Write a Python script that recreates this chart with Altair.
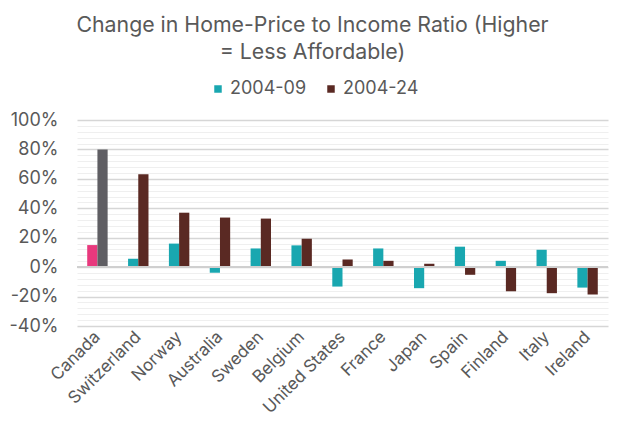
import altair as alt
import pandas as pd

countries = ["Canada", "Switzerland", "Norway", "Australia", "Sweden", "Belgium",
             "United States", "France", "Japan", "Spain", "Finland", "Italy", "Ireland"]
v_0409 = [15, 5.7, 16, -3.8, 12.7, 14.8, -13.2, 12.7, -14.3, 13.9, 4.3, 11.8, -13.9]
v_0424 = [80, 63.2, 37, 33.7, 33, 19.3, 5.2, 4.3, 2.3, -5.2, -16.4, -17.7, -18.6]
series = ["2004-09", "2004-24"]
highlight = "Canada"

grid_ticks = [-40, -36, -32, -28, -24, -20, -16, -12, -8, -4, 0, 4, 8, 12, 16, 20, 24, 28,
              32, 36, 40, 44, 48, 52, 56, 60, 64, 68, 72, 76, 80, 84, 88, 92, 96, 100]

color_domain = ["2004-09", "2004-24", "Canada 2004-09", "Canada 2004-24"]
color_range = ["#19a7b0", "#5a2923", "#e8397d", "#5f5e63"]

rows = []
for c, a, b in zip(countries, v_0409, v_0424):
    for s, v in zip(series, [a, b]):
        key = f"{c} {s}" if c == highlight else s
        rows.append({"country": c, "series": s, "value": v, "key": key})
df = pd.DataFrame(rows)

FONT = "Inter"
TXT = "#595959"

major_test = "datum.value % 20 === 0"
y_scale = alt.Scale(domain=[-40, 100], nice=False)
y_axis = alt.Axis(values=grid_ticks, tickCount=len(grid_ticks) + 4, grid=True,
                  gridColor={"condition": {"test": major_test, "value": "#d6d6d6"},
                             "value": "#efefef"},
                  gridWidth={"condition": {"test": major_test, "value": 1.3},
                             "value": 1},
                  labelExpr=f"{major_test} ? datum.value + '%' : ''",
                  labelFontSize=18, labelColor=TXT,
                  labelFont=FONT, labelPadding=19, ticks=False, domain=False,
                  labelOverlap=False, labelBound=False, labelFlush=False)

bars = alt.Chart(df).mark_bar().encode(
    x=alt.X("country:N", sort=countries, title=None,
            scale=alt.Scale(paddingInner=0.5, paddingOuter=0.25),
            axis=alt.Axis(labelAngle=315, labelAlign="right", labelBaseline="middle",
                          labelFontSize=17, labelColor=TXT, labelFont=FONT,
                          ticks=False, domain=False, labelPadding=8, labelOverlap=False)),
    xOffset=alt.XOffset("series:N", sort=series),
    y=alt.Y("value:Q", scale=y_scale, title=None, axis=y_axis),
    color=alt.Color("key:N", scale=alt.Scale(domain=color_domain, range=color_range),
                    legend=alt.Legend(values=series, title=None, orient="none",
                                      legendX=132, legendY=-40,
                                      direction="horizontal", symbolType="square",
                                      symbolSize=56, labelFontSize=18, labelColor=TXT,
                                      labelFont=FONT, columnPadding=15, symbolStrokeWidth=0,
                                      labelOffset=3)),
)

zero = alt.Chart(df).mark_rule(color="#cfcfcf", strokeWidth=1.2).encode(y=alt.datum(0))

chart = alt.layer(bars, zero).properties(
    width=531, height=206,
    autosize=alt.AutoSizeParams(type="none"),
    padding={"left": 69, "top": 112, "right": 8, "bottom": 105},
    title=alt.TitleParams(["Change in Home-Price to Income Ratio (Higher", "= Less Affordable)"],
                          font=FONT, fontSize=21.3, fontWeight="normal", color=TXT,
                          anchor="middle", lineHeight=27, offset=17, dx=-30),
    background="white",
).configure_view(stroke=None)

chart.save("out.html", embed_options={"renderer": "svg", "actions": False})
